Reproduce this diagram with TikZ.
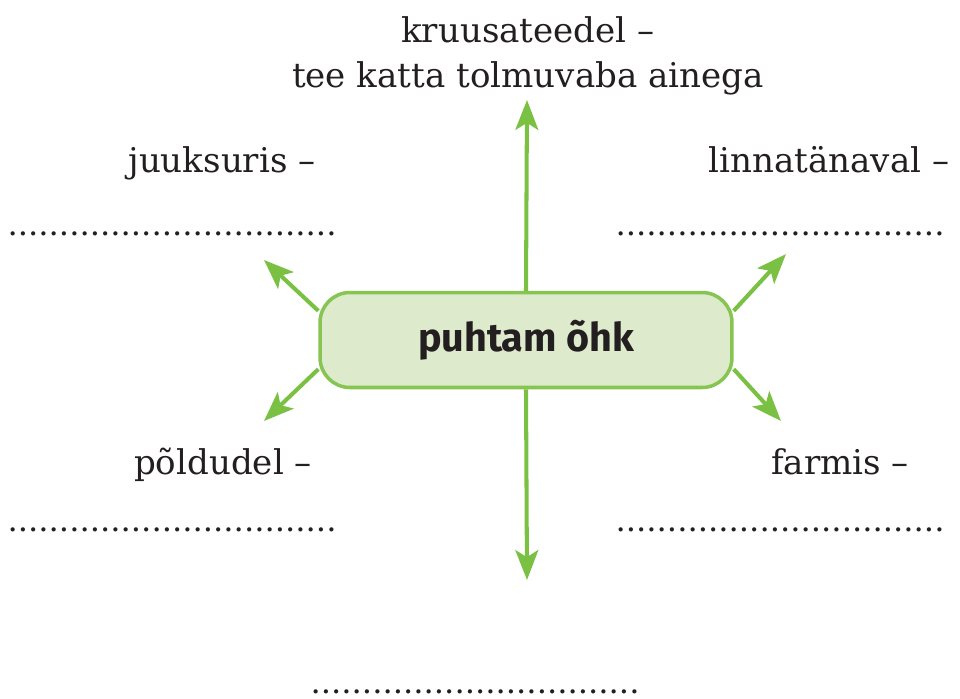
\documentclass[tikz,border=0pt]{standalone}
\usepackage{fontspec}
\setmainfont{DejaVu Serif}
\newfontfamily\boxfont{Fira Sans}
\usetikzlibrary{arrows.meta}
\definecolor{ink}{HTML}{231F20}
\definecolor{leaf}{HTML}{7AC143}
\definecolor{boxfill}{HTML}{DDEBCC}
\definecolor{boxline}{HTML}{86C551}
\begin{document}
\begin{tikzpicture}[x=0.02cm, y=-0.02cm,
  every node/.style={font=\fontsize{19.4}{25.5}\selectfont, text=ink, inner sep=0pt},
  label text/.style={anchor=base},
  fill in/.style={anchor=base, text depth=0pt, font=\fontsize{18.4}{25.5}\selectfont},
  hub/.style={draw=boxline, fill=boxfill, line width=2pt, rounded corners=17pt,
    minimum width=8.24cm, minimum height=1.9cm,
    font=\boxfont\bfseries\fontsize{22.5}{24}\selectfont},
  spoke/.style={draw=leaf, line width=2.3pt, -{Stealth[length=17pt,width=13pt,inset=4pt]}}]
\useasboundingbox (0,0) rectangle (960,698);

% centre box
\node (hub) [hub] at (526,340) {puhtam õhk};

% arrow ends
\coordinate (upend) at (527,100);
\coordinate (downend) at (527,580);
\coordinate (nwend) at (264,260);
\coordinate (neend) at (786,254);
\coordinate (swend) at (264,421);
\coordinate (seend) at (781,421);

\draw[spoke] (hub.north) -- (upend);
\draw[spoke] (hub.south) -- (downend);
\draw[spoke] (hub.172) -- (nwend);
\draw[spoke] (hub.8) -- (neend);
\draw[spoke] (hub.188) -- (swend);
\draw[spoke] (hub.-8) -- (seend);

% labels
\node (roadA) [label text] at (528,42) {kruusateedel –};
\node (roadB) [label text] at (528,87) {tee katta tolmuvaba ainega};
\node (hair) [label text] at (222,172) {juuksuris –};
\node (city) [label text] at (829,172) {linnatänaval –};
\node (field) [label text] at (223,474) {põldudel –};
\node (farm) [label text] at (840,474) {farmis –};

% lines to fill in
\node (hairline) [fill in] at (172,235) {................................};
\node (cityline) [fill in] at (780,235) {................................};
\node (fieldline) [fill in] at (172,531) {................................};
\node (farmline) [fill in] at (780,531) {................................};
\node (roadline) [fill in] at (475,693) {................................};
\end{tikzpicture}
\end{document}
